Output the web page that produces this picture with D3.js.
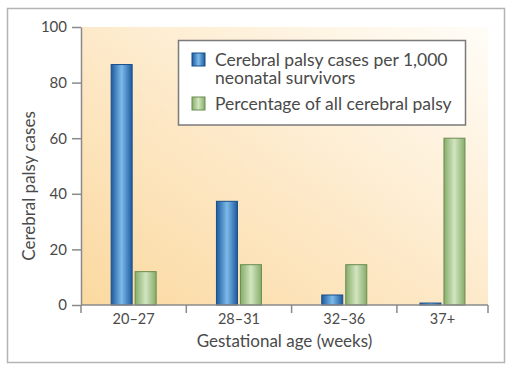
<!DOCTYPE html>
<html>
<head>
<meta charset="utf-8">
<script src="https://cdn.jsdelivr.net/npm/d3@7"></script>
<style>
  body { margin: 0; background: #fff; }
  text { font-family: Lato, "Open Sans", sans-serif; fill: #4a4a4a; }
</style>
</head>
<body>
<svg id="chart" width="515" height="372"></svg>
<script>
// data
var categories = ['20\u201327', '28\u201331', '32\u201336', '37+'];
var casesPer1000 = [86.5, 37.3, 3.6, 0.7];
var pctOfAll = [12, 14.5, 14.5, 60];
var yTicks = [0, 20, 40, 60, 80, 100];
var seriesNames = ['Cerebral palsy cases per 1,000|neonatal survivors', 'Percentage of all cerebral palsy'];

function drawChart() {
  var svg = d3.select('#chart');
  var left = 81, right = 488, plotTop = 27, bottom = 305;

  var defs = svg.append('defs');

  function grad(id, x2, y1, stops) {
    var g = defs.append('linearGradient').attr('id', id)
      .attr('x1', 0).attr('y1', y1).attr('x2', x2).attr('y2', 0);
    stops.forEach(function(s) {
      g.append('stop').attr('offset', s[0]).attr('stop-color', s[1]);
    });
  }
  grad('bg', 1, 1, [[0, '#fbd9a0'], [0.45, '#fde8c6'], [1, '#fffdf8']]);
  grad('blue', 1, 0, [[0, '#1d5a9e'], [0.5, '#7cbaea'], [1, '#1d5a9e']]);
  grad('green', 1, 0, [[0, '#86ad6a'], [0.5, '#d2e5c0'], [1, '#86ad6a']]);

  // outer frame
  svg.append('rect').attr('x', 7.5).attr('y', 8.5).attr('width', 497).attr('height', 354)
    .attr('fill', '#fff').attr('stroke', '#b4b4b4').attr('stroke-width', 1.5);

  var y = d3.scaleLinear().domain([0, 100]).range([bottom, plotTop]);
  // band boundaries follow the tick marks; last band is cut off at the axis end
  var x = d3.scaleBand().domain(categories).range([left, left + 4 * 105.3]);
  function center(d) {
    return (x(d) + Math.min(x(d) + x.step(), right)) / 2;
  }

  svg.append('rect').attr('x', left).attr('y', plotTop)
    .attr('width', right - left).attr('height', bottom - plotTop)
    .attr('fill', 'url(#bg)');

  var barW = 21, gap = 3;
  var rows = categories.map(function(c, i) {
    return { cat: c, a: casesPer1000[i], b: pctOfAll[i] };
  });

  var groups = svg.append('g').selectAll('g').data(rows).enter().append('g');
  groups.append('rect')
    .attr('x', function(d) { return center(d.cat) - gap / 2 - barW; })
    .attr('y', function(d) { return y(d.a); })
    .attr('width', barW)
    .attr('height', function(d) { return bottom - y(d.a); })
    .attr('fill', 'url(#blue)').attr('stroke', '#194f8c').attr('stroke-width', 1);
  groups.append('rect')
    .attr('x', function(d) { return center(d.cat) + gap / 2; })
    .attr('y', function(d) { return y(d.b); })
    .attr('width', barW)
    .attr('height', function(d) { return bottom - y(d.b); })
    .attr('fill', 'url(#green)').attr('stroke', '#6a8c50').attr('stroke-width', 1);

  // y axis
  var yAxis = svg.append('g').attr('transform', 'translate(' + left + ',0)')
    .call(d3.axisLeft(y).tickValues(yTicks).tickSize(9).tickSizeOuter(0).tickPadding(5));
  yAxis.selectAll('line, path').attr('stroke', '#8a8a8a').attr('stroke-width', 1.5);
  yAxis.selectAll('text').style('font-size', '15px').attr('fill', '#555');

  // x axis: ticks at band boundaries
  var xTicks = categories.map(function(c) { return x(c); }).concat([right]);
  var xAxis = svg.append('g');
  xAxis.append('line').attr('x1', left).attr('x2', right).attr('y1', bottom).attr('y2', bottom)
    .attr('stroke', '#8a8a8a').attr('stroke-width', 1.5);
  xAxis.selectAll('.tk').data(xTicks).enter().append('line')
    .attr('x1', function(d) { return d; }).attr('x2', function(d) { return d; })
    .attr('y1', bottom).attr('y2', bottom + 8)
    .attr('stroke', '#8a8a8a').attr('stroke-width', 1.5);
  xAxis.selectAll('.lb').data(categories).enter().append('text')
    .attr('x', center).attr('y', 323.5)
    .attr('text-anchor', 'middle').style('font-size', '14.5px').attr('fill', '#555')
    .text(function(d) { return d; });

  // axis titles
  svg.append('text').attr('x', (left + right) / 2).attr('y', 347)
    .attr('text-anchor', 'middle').style('font-size', '17px')
    .text('Gestational age (weeks)');
  svg.append('text').attr('transform', 'translate(35,186) rotate(-90)')
    .attr('text-anchor', 'middle').style('font-size', '17px')
    .text('Cerebral palsy cases');

  // legend
  var lg = svg.append('g');
  lg.append('rect').attr('x', 178.5).attr('y', 40.5).attr('width', 287).attr('height', 84.5)
    .attr('fill', '#fff').attr('stroke', '#7a7a7a').attr('stroke-width', 1.5);
  var keyFill = ['url(#blue)', 'url(#green)'], keyStroke = ['#194f8c', '#6a8c50'];
  var keyY = [53, 97];
  seriesNames.forEach(function(name, i) {
    lg.append('rect').attr('x', 192).attr('y', keyY[i]).attr('width', 13).attr('height', 13)
      .attr('fill', keyFill[i]).attr('stroke', keyStroke[i]).attr('stroke-width', 1);
    name.split('|').forEach(function(line, j) {
      lg.append('text').attr('x', 215).attr('y', keyY[i] + 13 + j * 18)
        .style('font-size', '17.5px').text(line);
    });
  });
}

drawChart();
</script>
</body>
</html>
